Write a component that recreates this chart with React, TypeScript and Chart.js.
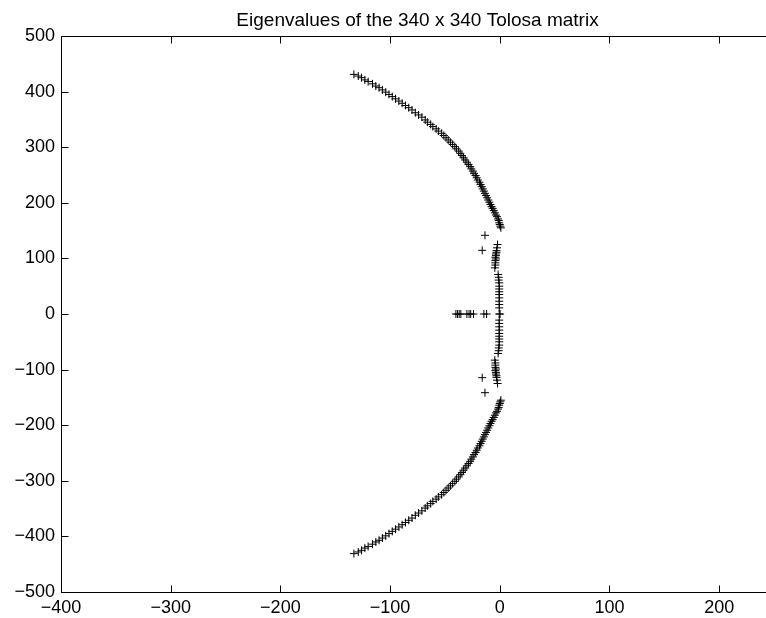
import { useEffect, useRef } from 'react';
import { Chart, registerables } from 'chart.js';

Chart.register(...registerables);

const TITLE = 'Eigenvalues of the 340 x 340 Tolosa matrix';

// Axis limits and tick positions
const X_LIMITS = [-400, 250];
const Y_LIMITS = [-500, 500];
const xTicks = [-400, -300, -200, -100, 0, 100, 200];
const yTicks = [-500, -400, -300, -200, -100, 0, 100, 200, 300, 400, 500];

// Outer arc, upper half (real and imaginary parts); the lower half is its conjugate
const arcRe = [
  -133, -129, -126, -123, -120, -116, -113, -110, -107, -104,
  -101, -98, -95, -92, -89, -86, -83, -80, -77, -74,
  -71, -68, -66, -63, -61, -58, -56, -53, -51, -49,
  -47, -45, -43, -41, -39.5, -37.5, -36, -34.5, -33, -31.5,
  -30, -28.5, -27, -26, -24.5, -23.5, -22, -21, -20, -18.5,
  -17.5, -16.5, -15.5, -14.5, -13.5, -12.5, -11.5, -10.5, -9.5, -8.5,
  -7.5, -6.5, -5.5, -4.5, -3.5, -2.5, -1.5, -1, -0.5, 0,
  0.5, 1,
];
const arcIm = [
  431, 428, 425, 421, 418, 414, 410, 407, 403, 399,
  395, 391, 387, 383, 379, 375, 371, 367, 362, 358,
  354, 349, 345, 341, 337, 333, 329, 325, 321, 317,
  313, 309, 305, 301, 297, 293, 289, 285, 281, 277,
  273, 269, 265, 261, 257, 253, 249, 245, 241, 237,
  233, 229, 225, 221, 217, 213, 209, 205, 201, 197,
  193, 190, 186, 182, 178, 175, 171, 168, 164, 161,
  158, 155,
];

// Cluster hugging the imaginary axis, upper half
const innerRe = [
  -2, -2.5, -3, -3, -3.5, -3.5, -4, -3.5, -4, -4,
  -4, -4.5, -1.5, -1, -1, -0.5, -0.5, -0.5, -0.5, -0.5,
  -0.5, -0.5, -0.5, -0.5,
];
const innerIm = [
  125, 119, 114, 111, 108, 105, 102, 99, 96, 92,
  88, 83, 71, 66, 61, 56, 50, 45, 40, 35,
  29, 23, 17, 11,
];

// Two isolated pairs left of the cluster
const outlierRe = [-13.5, -16];
const outlierIm = [141.5, 114.5];

// Real eigenvalues
const realValues = [-40, -38.5, -37, -35.5, -30, -28, -26.5, -24, -14.5, -12, -0.5, 0.3];

const FONT_FAMILY = '"Liberation Sans", Arial, Helvetica, sans-serif';

function buildPoints() {
  const pts: { x: number; y: number }[] = [];
  const addPairs = (re: number[], im: number[]) => {
    re.forEach((r, i) => {
      pts.push({ x: r, y: im[i] });
      pts.push({ x: r, y: -im[i] });
    });
  };
  addPairs(arcRe, arcIm);
  addPairs(innerRe, innerIm);
  addPairs(outlierRe, outlierIm);
  realValues.forEach((r) => pts.push({ x: r, y: 0 }));
  return pts;
}

const fmt = (v: number) => String(v).replace('-', '\u2212');

// Box around the axes with inward-pointing tick marks, plus the title
const framePlugin = {
  id: 'matlabFrame',
  afterDraw(chart: any) {
    const { ctx, chartArea: a, scales } = chart;
    const sx = scales.x;
    const sy = scales.y;
    const L = Math.round(a.left) + 0.5;
    const R = Math.round(a.right) + 0.5;
    const T = Math.round(a.top) + 0.5;
    const B = Math.round(a.bottom) + 0.5;
    const len = 7;
    ctx.save();
    ctx.strokeStyle = '#000';
    ctx.lineWidth = 1;
    ctx.beginPath();
    ctx.rect(L, T, R - L, B - T);
    xTicks.forEach((v) => {
      const px = Math.round(sx.getPixelForValue(v)) + 0.5;
      ctx.moveTo(px, B);
      ctx.lineTo(px, B - len);
      ctx.moveTo(px, T);
      ctx.lineTo(px, T + len);
    });
    yTicks.forEach((v) => {
      const py = Math.round(sy.getPixelForValue(v)) + 0.5;
      ctx.moveTo(L, py);
      ctx.lineTo(L + len, py);
      ctx.moveTo(R, py);
      ctx.lineTo(R - len, py);
    });
    ctx.stroke();
    ctx.fillStyle = '#000';
    ctx.font = `19px ${FONT_FAMILY}`;
    ctx.textAlign = 'center';
    ctx.textBaseline = 'alphabetic';
    ctx.fillText(TITLE, (a.left + a.right) / 2, 26);
    ctx.restore();
  },
};

const noPadding = (s: any) => {
  s.paddingLeft = 0;
  s.paddingRight = 0;
  s.paddingTop = 0;
  s.paddingBottom = 0;
};

export default function App() {
  const canvasRef = useRef<HTMLCanvasElement | null>(null);

  useEffect(() => {
    if (!canvasRef.current) return;
    const tickFont = { family: FONT_FAMILY, size: 18 };
    const chart = new Chart(canvasRef.current, {
      type: 'scatter',
      data: {
        datasets: [
          {
            data: buildPoints(),
            pointStyle: 'cross',
            pointRadius: 4,
            pointHoverRadius: 4,
            pointBorderWidth: 1,
            borderColor: '#000',
            backgroundColor: '#000',
            showLine: false,
          },
        ],
      },
      options: {
        responsive: false,
        animation: false,
        events: [],
        layout: { autoPadding: false, padding: { top: 36, right: 2, bottom: 0, left: 0 } },
        plugins: {
          legend: { display: false },
          tooltip: { enabled: false },
          title: { display: false },
        },
        scales: {
          x: {
            type: 'linear',
            position: 'bottom',
            min: X_LIMITS[0],
            max: X_LIMITS[1],
            grid: { display: false, drawTicks: false },
            border: { display: false },
            afterBuildTicks: (s: any) => {
              s.ticks = xTicks.map((v) => ({ value: v }));
            },
            afterFit: (s: any) => {
              s.height = 26;
              noPadding(s);
            },
            ticks: {
              color: '#000',
              font: tickFont,
              padding: 5,
              maxRotation: 0,
              autoSkip: false,
              callback: (v: any) => fmt(Number(v)),
            },
          },
          y: {
            type: 'linear',
            min: Y_LIMITS[0],
            max: Y_LIMITS[1],
            grid: { display: false, drawTicks: false },
            border: { display: false },
            afterBuildTicks: (s: any) => {
              s.ticks = yTicks.map((v) => ({ value: v }));
            },
            afterFit: (s: any) => {
              s.width = 61;
              noPadding(s);
            },
            ticks: {
              color: '#000',
              font: tickFont,
              padding: 6,
              autoSkip: false,
              callback: (v: any) => fmt(Number(v)),
            },
          },
        },
      },
      plugins: [framePlugin],
    });
    return () => chart.destroy();
  }, []);

  return (
    <div
      style={{
        position: 'fixed',
        left: 0,
        top: 0,
        width: 766,
        height: 618,
        overflow: 'hidden',
        background: '#fff',
      }}
    >
      <canvas ref={canvasRef} width={776} height={618} style={{ display: 'block' }} />
    </div>
  );
}
